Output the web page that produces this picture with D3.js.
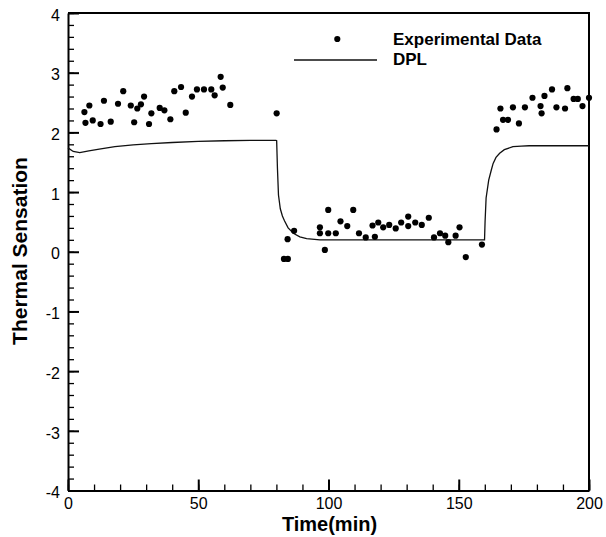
<!DOCTYPE html>
<html>
<head>
<meta charset="utf-8">
<script src="https://cdn.jsdelivr.net/npm/d3@7"></script>
<style>
  body { margin: 0; background: #fff; }
  text { font-family: Arial, "Liberation Sans", sans-serif; fill: #000; }
</style>
</head>
<body>
<svg id="chart" width="606" height="537"></svg>
<script>
// experimental points (time in min, thermal sensation)
const expTime = [6.3, 6.7, 8.2, 9.5, 12.5, 13.8, 16.4, 19.2, 21.2, 24.1, 25.4, 26.6, 28.0, 29.2, 31.1,
  32.0, 35.2, 37.0, 39.3, 40.8, 43.4, 45.2, 47.6, 49.5, 52.2, 55.0, 56.3, 58.6, 59.4, 62.3, 80.1,
  82.9, 84.4, 84.3, 86.8, 96.7, 96.7, 98.6, 99.9, 99.9, 102.8, 104.6, 107.2, 109.5, 111.7, 114.3,
  116.9, 117.8, 119.1, 121.0, 123.3, 125.8, 127.9, 130.6, 130.6, 133.3, 135.8, 138.5, 140.5, 142.8,
  144.8, 146.0, 148.8, 150.3, 152.7, 158.9,
  164.5, 166.0, 167.0, 168.9, 170.8, 173.1, 175.4, 178.3, 181.4, 181.8, 182.9, 185.8, 187.5, 190.8,
  191.7, 194.1, 195.7, 197.5, 200];
const expTS = [2.34, 2.16, 2.45, 2.20, 2.14, 2.53, 2.18, 2.48, 2.69, 2.45, 2.17, 2.40, 2.47, 2.60, 2.14,
  2.32, 2.41, 2.37, 2.22, 2.69, 2.76, 2.33, 2.60, 2.72, 2.72, 2.72, 2.62, 2.93, 2.75, 2.46, 2.32,
  -0.12, -0.12, 0.21, 0.35, 0.41, 0.31, 0.03, 0.70, 0.31, 0.31, 0.51, 0.43, 0.70, 0.31, 0.24,
  0.44, 0.25, 0.49, 0.41, 0.45, 0.39, 0.49, 0.59, 0.43, 0.49, 0.45, 0.57, 0.24, 0.31,
  0.27, 0.16, 0.27, 0.41, -0.09, 0.12,
  2.05, 2.40, 2.21, 2.21, 2.42, 2.15, 2.42, 2.58, 2.44, 2.32, 2.61, 2.72, 2.42, 2.40,
  2.74, 2.56, 2.56, 2.44, 2.58];

// DPL model curve
const dplTime = [0, 2, 4.5, 8, 12, 18, 25, 32, 40, 50, 60, 70, 79.8, 80.1, 80.4, 80.8, 81.5, 82.3, 83.1,
  84.5, 86.5, 89, 91.6, 96.7, 100, 120, 140, 159.9, 160.1, 160.5, 161.5, 162.5, 163.2, 164.3, 165.7,
  167.5, 170.8, 174, 177, 200];
const dplTS = [1.74, 1.68, 1.66, 1.69, 1.72, 1.76, 1.79, 1.81, 1.83, 1.85, 1.86, 1.865, 1.866, 1.86, 1.4,
  0.95, 0.72, 0.60, 0.52, 0.40, 0.31, 0.25, 0.22, 0.20, 0.20, 0.20, 0.20, 0.20, 0.5, 0.9, 1.2, 1.37,
  1.48, 1.58, 1.65, 1.71, 1.76, 1.77, 1.776, 1.776];

const xMajor = [0, 50, 100, 150, 200];
const yMajor = [-4, -3, -2, -1, 0, 1, 2, 3, 4];

const svg = d3.select("svg#chart");
const margin = { top: 13, right: 17, bottom: 46.5, left: 68 };
const W = 606 - margin.left - margin.right;
const H = 537 - margin.top - margin.bottom;

const g = svg.append("g").attr("transform", `translate(${margin.left},${margin.top})`);

const x = d3.scaleLinear().domain([0, 200]).range([0, W]);
const y = d3.scaleLinear().domain([-4, 4]).range([H, 0]);

// frame (top and right)
g.append("path")
  .attr("d", `M0,0H${W}V${H}`)
  .attr("fill", "none")
  .attr("stroke", "#000")
  .attr("stroke-width", 2);

// minor ticks
g.append("g")
  .attr("transform", `translate(0,${H})`)
  .call(d3.axisBottom(x).tickValues(d3.range(0, 201, 10)).tickSize(-6).tickFormat(""))
  .call(a => a.select(".domain").remove())
  .call(a => a.selectAll("line").attr("stroke-width", 1.3));
g.append("g")
  .call(d3.axisLeft(y).tickValues(d3.range(-40, 41, 2).map(d => d / 10)).tickSize(-6).tickFormat(""))
  .call(a => a.select(".domain").remove())
  .call(a => a.selectAll("line").attr("stroke-width", 1.3));

// major ticks + labels (plain hyphen for negatives, like the original)
const fmt = d => String(d);
const xAxis = g.append("g")
  .attr("transform", `translate(0,${H})`)
  .call(d3.axisBottom(x).tickValues(xMajor).tickSizeInner(-11).tickSizeOuter(0).tickPadding(7).tickFormat(fmt));
const yAxis = g.append("g")
  .call(d3.axisLeft(y).tickValues(yMajor).tickSizeInner(-11).tickSizeOuter(0).tickPadding(8).tickFormat(fmt));

[xAxis, yAxis].forEach(a => {
  a.select(".domain").attr("stroke-width", 2);
  a.selectAll("line").attr("stroke-width", 2);
  a.selectAll("text").style("font-size", "16px").attr("fill", "#000");
});
yAxis.selectAll("text").attr("dy", "0.45em");

// DPL line
const line = d3.line().x((d, i) => x(dplTime[i])).y((d, i) => y(dplTS[i]));
g.append("path")
  .datum(dplTS)
  .attr("d", line)
  .attr("fill", "none")
  .attr("stroke", "#111")
  .attr("stroke-width", 1.3);

// experimental points
g.selectAll("circle.pt")
  .data(expTS)
  .join("circle")
  .attr("class", "pt")
  .attr("cx", (d, i) => x(expTime[i]))
  .attr("cy", d => y(d))
  .attr("r", 3.1)
  .attr("fill", "#000");

// axis titles
svg.append("text")
  .attr("x", 329.5)
  .attr("y", 531)
  .attr("text-anchor", "middle")
  .style("font-size", "20px")
  .style("font-weight", "bold")
  .text("Time(min)");

svg.append("text")
  .attr("transform", "translate(27,251) rotate(-90)")
  .attr("text-anchor", "middle")
  .style("font-size", "21px")
  .style("font-weight", "bold")
  .text("Thermal Sensation");

// legend
const leg = svg.append("g");
leg.append("circle").attr("cx", 337.3).attr("cy", 39).attr("r", 3.1).attr("fill", "#000");
leg.append("line")
  .attr("x1", 294).attr("x2", 377).attr("y1", 60).attr("y2", 60)
  .attr("stroke", "#111").attr("stroke-width", 1.3);
leg.append("text").attr("x", 393).attr("y", 45)
  .style("font-size", "17px").style("font-weight", "bold").text("Experimental Data");
leg.append("text").attr("x", 393).attr("y", 65)
  .style("font-size", "17px").style("font-weight", "bold").text("DPL");
</script>
</body>
</html>
